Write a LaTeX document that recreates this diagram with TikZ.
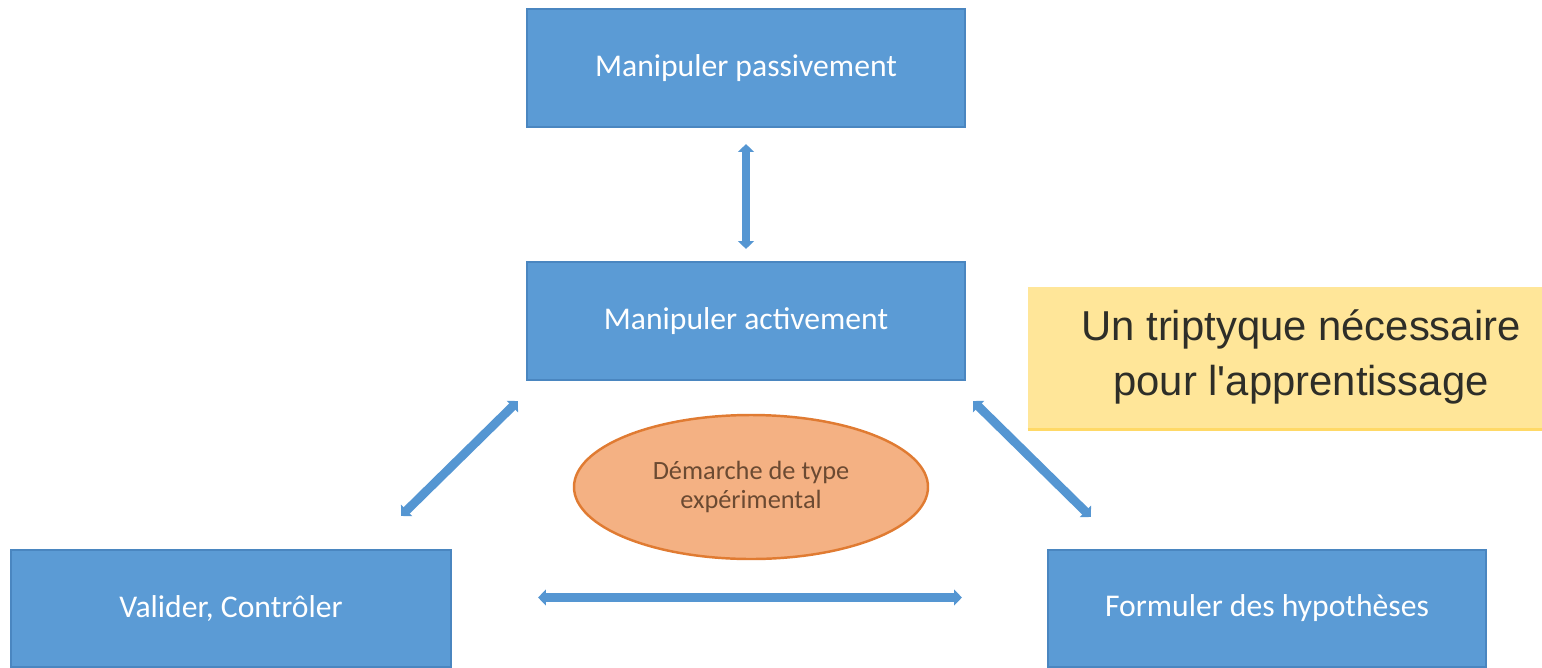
\documentclass[tikz,border=0pt]{standalone}
\usepackage{fontspec}
\setmainfont{Carlito}
\newfontfamily\arialfont{Liberation Sans}
\usetikzlibrary{arrows.meta,calc,shapes.geometric}
\definecolor{boxblue}{HTML}{5B9BD5}
\definecolor{boxedge}{HTML}{4A86C0}
\definecolor{arrowblue}{HTML}{5596D2}
\definecolor{ovalfill}{HTML}{F4B183}
\definecolor{ovaledge}{HTML}{E07B32}
\definecolor{ovaltext}{HTML}{6B4A32}
\definecolor{notefill}{HTML}{FFE699}
\definecolor{noteedge}{HTML}{FFD966}
\definecolor{notetext}{HTML}{2E2E28}
\begin{document}
\begin{tikzpicture}[x=0.02cm,y=-0.02cm,
  stepbox/.style={rectangle, fill=boxblue, draw=boxedge, line width=1.2pt,
    minimum width=438*0.02cm, minimum height=118*0.02cm, inner sep=0pt,
    text=white, font=\fontsize{18}{21}\selectfont},
  biarrow/.style={draw=arrowblue, line width=5pt,
    {Triangle[width=9pt,length=4.5pt]}-{Triangle[width=9pt,length=4.5pt]}},
]
\useasboundingbox (0,0) rectangle (1542,667);

% blue step boxes
\node[stepbox] (top) at (746,68) {Manipuler passivement};
\node[stepbox] (mid) at (746,321) {Manipuler activement};
\node[stepbox, minimum width=440*0.02cm, minimum height=117*0.02cm] (left) at (231,608.5) {Valider, Contrôler};
\node[stepbox, minimum height=117*0.02cm] (right) at (1267,608.5) {Formuler des hypothèses};

% central oval
\node[ellipse, fill=ovalfill, draw=ovaledge, line width=1.4pt,
  minimum width=354*0.02cm, minimum height=144*0.02cm, inner sep=0pt,
  align=center, text=ovaltext, font=\fontsize{15}{17}\selectfont]
  (oval) at (751,487) {Démarche de type\\expérimental};

% yellow note
\node[rectangle, fill=notefill, inner sep=0pt,
  minimum width=514*0.02cm, minimum height=143*0.02cm] (note) at (1285,358.5) {};
\draw[noteedge, line width=2pt] ($(note.south west)+(0,-1)$) -- ($(note.south east)+(0,-1)$);
\node[align=center, text=notetext, font=\arialfont\fontsize{23.8}{31}\selectfont]
  (notetxt) at (1301,357) {Un triptyque nécessaire\\pour l'apprentissage};

% double-headed connectors
\draw[biarrow, shorten <=16*0.02cm, shorten >=12*0.02cm] (top.south) -- (mid.north);
\draw[biarrow] ($(mid.south west)+(-8,20)$) -- ($(left.north east)+(-51,-33)$);
\draw[biarrow] ($(mid.south east)+(7,20)$) -- ($(right.north west)+(44,-32)$);
\draw[biarrow] ($(left.east)+(86,-11)$) -- ($(right.west)+(-85,-11)$);
\end{tikzpicture}
\end{document}
